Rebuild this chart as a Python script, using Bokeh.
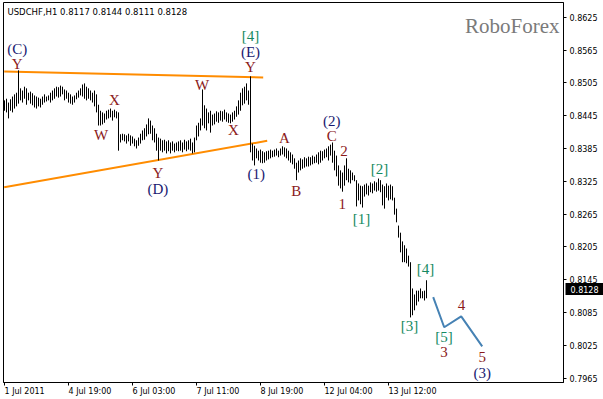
from bokeh.plotting import figure
from bokeh.models import (Range1d, LinearAxis, FixedTicker, Label, ColumnDataSource,
                          CustomJSTickFormatter)
from bokeh.core.properties import value
from bokeh.embed import file_html
from bokeh.resources import INLINE

# ---------------- data ----------------
symbol = "USDCHF,H1"
last_ohlc = [0.8117, 0.8144, 0.8111, 0.8128]

high = [0.8473, 0.8476, 0.8469, 0.8475, 0.8480, 0.8484, 0.8487, 0.8528, 0.8495, 0.8491,
        0.8498, 0.8495, 0.8487, 0.8489, 0.8486, 0.8482, 0.8480, 0.8478, 0.8476, 0.8480,
        0.8484, 0.8480, 0.8482, 0.8487, 0.8491, 0.8495, 0.8498, 0.8497, 0.8500, 0.8498,
        0.8493, 0.8491, 0.8487, 0.8484, 0.8480, 0.8482, 0.8487, 0.8491, 0.8495, 0.8502,
        0.8504, 0.8498, 0.8495, 0.8491, 0.8487, 0.8491, 0.8484, 0.8465, 0.8454, 0.8451,
        0.8449, 0.8454, 0.8456, 0.8458, 0.8454, 0.8456, 0.8453, 0.8451, 0.8411, 0.8412,
        0.8411, 0.8409, 0.8412, 0.8409, 0.8407, 0.8403, 0.8400, 0.8405, 0.8412, 0.8418,
        0.8422, 0.8429, 0.8440, 0.8436, 0.8427, 0.8422, 0.8412, 0.8405, 0.8403, 0.8400,
        0.8401, 0.8398, 0.8400, 0.8396, 0.8398, 0.8394, 0.8396, 0.8398, 0.8400, 0.8396,
        0.8401, 0.8398, 0.8400, 0.8403, 0.8396, 0.8405, 0.8427, 0.8432, 0.8440, 0.8493,
        0.8464, 0.8458, 0.8451, 0.8454, 0.8447, 0.8449, 0.8453, 0.8451, 0.8454, 0.8453,
        0.8456, 0.8451, 0.8449, 0.8447, 0.8451, 0.8454, 0.8462, 0.8473, 0.8487, 0.8495,
        0.8498, 0.8504, 0.8491, 0.8517, 0.8394, 0.8390, 0.8385, 0.8381, 0.8383, 0.8380,
        0.8378, 0.8380, 0.8381, 0.8383, 0.8381, 0.8383, 0.8385, 0.8381, 0.8385, 0.8389,
        0.8387, 0.8385, 0.8381, 0.8378, 0.8374, 0.8367, 0.8359, 0.8363, 0.8367, 0.8365,
        0.8369, 0.8367, 0.8370, 0.8369, 0.8372, 0.8370, 0.8374, 0.8378, 0.8381, 0.8380,
        0.8383, 0.8385, 0.8389, 0.8392, 0.8396, 0.8381, 0.8372, 0.8354, 0.8345, 0.8341,
        0.8354, 0.8367, 0.8348, 0.8345, 0.8341, 0.8336, 0.8327, 0.8321, 0.8317, 0.8316,
        0.8319, 0.8321, 0.8317, 0.8323, 0.8321, 0.8325, 0.8323, 0.8330, 0.8327, 0.8319,
        0.8316, 0.8321, 0.8317, 0.8319, 0.8316, 0.8295, 0.8275, 0.8244, 0.8231, 0.8215,
        0.8208, 0.8202, 0.8189, 0.8177, 0.8129, 0.8118, 0.8125, 0.8125, 0.8129, 0.8124,
        0.8125, 0.8144]

low = [0.8454, 0.8451, 0.8440, 0.8454, 0.8451, 0.8458, 0.8462, 0.8467, 0.8473, 0.8469,
       0.8476, 0.8465, 0.8473, 0.8467, 0.8464, 0.8460, 0.8458, 0.8462, 0.8460, 0.8465,
       0.8469, 0.8471, 0.8473, 0.8469, 0.8473, 0.8476, 0.8480, 0.8478, 0.8480, 0.8484,
       0.8473, 0.8476, 0.8469, 0.8467, 0.8465, 0.8469, 0.8475, 0.8478, 0.8482, 0.8480,
       0.8476, 0.8473, 0.8476, 0.8473, 0.8469, 0.8462, 0.8451, 0.8427, 0.8427, 0.8429,
       0.8432, 0.8438, 0.8440, 0.8442, 0.8436, 0.8442, 0.8440, 0.8381, 0.8396, 0.8400,
       0.8398, 0.8394, 0.8398, 0.8390, 0.8394, 0.8389, 0.8385, 0.8390, 0.8394, 0.8400,
       0.8401, 0.8407, 0.8411, 0.8412, 0.8400, 0.8396, 0.8381, 0.8363, 0.8381, 0.8378,
       0.8381, 0.8376, 0.8380, 0.8376, 0.8381, 0.8378, 0.8381, 0.8380, 0.8381, 0.8378,
       0.8383, 0.8380, 0.8383, 0.8381, 0.8376, 0.8378, 0.8400, 0.8407, 0.8418, 0.8427,
       0.8422, 0.8418, 0.8431, 0.8414, 0.8427, 0.8429, 0.8434, 0.8432, 0.8436, 0.8434,
       0.8438, 0.8434, 0.8432, 0.8431, 0.8434, 0.8438, 0.8443, 0.8447, 0.8454, 0.8464,
       0.8467, 0.8473, 0.8465, 0.8378, 0.8363, 0.8354, 0.8367, 0.8363, 0.8359, 0.8358,
       0.8359, 0.8363, 0.8365, 0.8367, 0.8369, 0.8370, 0.8372, 0.8369, 0.8372, 0.8374,
       0.8370, 0.8367, 0.8363, 0.8359, 0.8356, 0.8348, 0.8327, 0.8341, 0.8345, 0.8348,
       0.8350, 0.8352, 0.8352, 0.8354, 0.8356, 0.8358, 0.8359, 0.8356, 0.8359, 0.8363,
       0.8367, 0.8369, 0.8363, 0.8372, 0.8359, 0.8345, 0.8334, 0.8317, 0.8312, 0.8306,
       0.8317, 0.8327, 0.8323, 0.8321, 0.8327, 0.8325, 0.8279, 0.8290, 0.8283, 0.8277,
       0.8297, 0.8301, 0.8299, 0.8305, 0.8303, 0.8308, 0.8306, 0.8308, 0.8305, 0.8281,
       0.8275, 0.8295, 0.8290, 0.8292, 0.8290, 0.8264, 0.8250, 0.8222, 0.8195, 0.8177,
       0.8177, 0.8175, 0.8169, 0.8076, 0.8080, 0.8089, 0.8098, 0.8105, 0.8111, 0.8111,
       0.8107, 0.8111]

bar_index = list(range(len(high)))

# time axis (bar index of each labelled hour)
time_tick_index = [0, 32, 64, 96, 128, 160, 192]
time_tick_labels = ["1 Jul 2011", "4 Jul 19:00", "6 Jul 03:00", "7 Jul 11:00",
                    "8 Jul 19:00", "12 Jul 04:00", "13 Jul 12:00"]

price_ticks = [0.8625, 0.8565, 0.8505, 0.8445, 0.8385, 0.8325,
               0.8265, 0.8205, 0.8145, 0.8085, 0.8025, 0.7965]

# triangle trend lines (bar index, price)
upper_line_x = [-0.15, 129.35]
upper_line_y = [0.8526, 0.8515]
lower_line_x = [-0.15, 131.35]
lower_line_y = [0.8314, 0.8399]

# forecast path
forecast_x = [214.35, 219.85, 228.35, 238.85]
forecast_y = [0.8113, 0.8058, 0.8078, 0.8023]

# wave labels: text, bar index, price, kind
wave_text = ["(C)", "Y", "W", "X", "Y", "(D)", "W", "X", "[4]", "(E)", "Y",
             "(1)", "A", "B", "(2)", "C", "2", "1", "[2]", "[1]", "[4]", "[3]",
             "[5]", "3", "4", "5", "(3)"]
wave_x = [6.35, 6.35, 48.35, 55.0, 76.7, 76.7, 98.85, 114.5, 123.0, 123.0, 123.0,
          125.85, 140.0, 145.85, 163.6, 163.6, 169.7, 168.85, 187.5, 178.5, 210.5, 202.5,
          219.7, 219.7, 228.5, 238.85, 238.85]
wave_y = [0.8567, 0.8540, 0.8409, 0.8474, 0.8340, 0.8311, 0.8502, 0.8419, 0.8591, 0.8561,
          0.8534, 0.8339, 0.8404, 0.8307, 0.8435, 0.8407, 0.8380, 0.8283, 0.8348, 0.8256,
          0.8165, 0.8060, 0.8040, 0.8012, 0.8099, 0.8003, 0.7974]
wave_kind = ["p", "l", "l", "l", "l", "p", "l", "l", "b", "p", "l",
             "p", "l", "l", "p", "l", "l", "l", "b", "b", "b", "b",
             "b", "l", "l", "l", "p"]

kind_color = {"p": "#191970", "l": "#8b1a1a", "b": "#148a62"}

# ---------------- figure ----------------
X0, X1 = -0.5, 279.5
Y0, Y1 = 0.7957, 0.8652
FW, FH = 560, 380
px_x = (X1 - X0) / FW   # data units per pixel
px_y = (Y1 - Y0) / FH

p = figure(width=603, height=399, output_backend="svg", toolbar_location=None,
           x_range=Range1d(X0, X1), y_range=Range1d(Y0, Y1),
           min_border_left=3, min_border_right=40, min_border_top=2, min_border_bottom=17,
           x_axis_location=None, y_axis_location=None)
p.xgrid.visible = False
p.ygrid.visible = False
p.outline_line_color = "black"
p.outline_line_width = 1
p.background_fill_color = "white"
p.border_fill_color = "white"

# right price axis
yaxis = LinearAxis(ticker=FixedTicker(ticks=price_ticks),
                   formatter=CustomJSTickFormatter(code="return tick.toFixed(4);"))
yaxis.axis_line_color = "black"
yaxis.major_tick_line_color = "black"
yaxis.major_tick_out = 3
yaxis.major_tick_in = 0
yaxis.minor_tick_line_color = None
yaxis.major_label_standoff = 3
yaxis.major_label_text_font = "DejaVu Sans"
yaxis.major_label_text_font_size = "8px"
yaxis.major_label_text_color = "black"
p.add_layout(yaxis, "right")

# bottom time axis (ticks only; labels drawn left-aligned at each tick)
xaxis = LinearAxis(ticker=FixedTicker(ticks=time_tick_index),
                   formatter=CustomJSTickFormatter(code="return '';"))
xaxis.axis_line_color = "black"
xaxis.major_tick_line_color = "black"
xaxis.major_tick_out = 3
xaxis.major_tick_in = 0
xaxis.minor_tick_line_color = None
xaxis.major_label_standoff = 0
p.add_layout(xaxis, "below")

# time labels, left-aligned at their ticks, below the frame (unclipped overlay level)
p.text(x=time_tick_index, y=[Y0 - 9 * px_y] * len(time_tick_index), text=time_tick_labels,
       text_font=value("DejaVu Sans"), text_font_size="8px", text_color="black",
       text_align="left", text_baseline="middle", level="overlay")

# trend lines
p.line(upper_line_x, upper_line_y, line_color="#ff8c00", line_width=2)
p.line(lower_line_x, lower_line_y, line_color="#ff8c00", line_width=2)

# OHLC bars (high-low lines)
src = ColumnDataSource(dict(x=bar_index, high=high, low=low))
p.segment(x0="x", y0="low", x1="x", y1="high", source=src, line_color="black", line_width=1)

# forecast
p.line(forecast_x, forecast_y, line_color="#4682b4", line_width=2)

# wave labels
for t, x, y, k in zip(wave_text, wave_x, wave_y, wave_kind):
    p.add_layout(Label(x=x, y=y, text=t, text_font="Liberation Serif",
                       text_font_size="15px", text_color=kind_color[k],
                       text_align="center", text_baseline="middle"))

# header
p.add_layout(Label(x=4, y=371, x_units="screen", y_units="screen",
                   text=symbol + "  " + " ".join(f"{v:.4f}" for v in last_ohlc),
                   text_font="DejaVu Sans", text_font_size="8.5px", text_color="black",
                   text_align="left", text_baseline="middle"))

# watermark
p.add_layout(Label(x=556, y=357, x_units="screen", y_units="screen", text="RoboForex",
                   text_font="Liberation Serif", text_font_size="21px", text_color="#7a7a7a",
                   text_align="right", text_baseline="middle"))

# current price box, right of the price axis
box_x = X1 + 21 * px_x
p.rect(x=[box_x], y=[last_ohlc[3]], width=38, height=12, width_units="screen",
       height_units="screen", fill_color="black", line_color=None, level="overlay")
p.text(x=[box_x], y=[last_ohlc[3]], text=[f"{last_ohlc[3]:.4f}"],
       text_font=value("DejaVu Sans"), text_font_size="8px", text_color="white",
       text_align="center", text_baseline="middle", level="overlay")

open("out.html", "w").write(file_html(p, INLINE))
